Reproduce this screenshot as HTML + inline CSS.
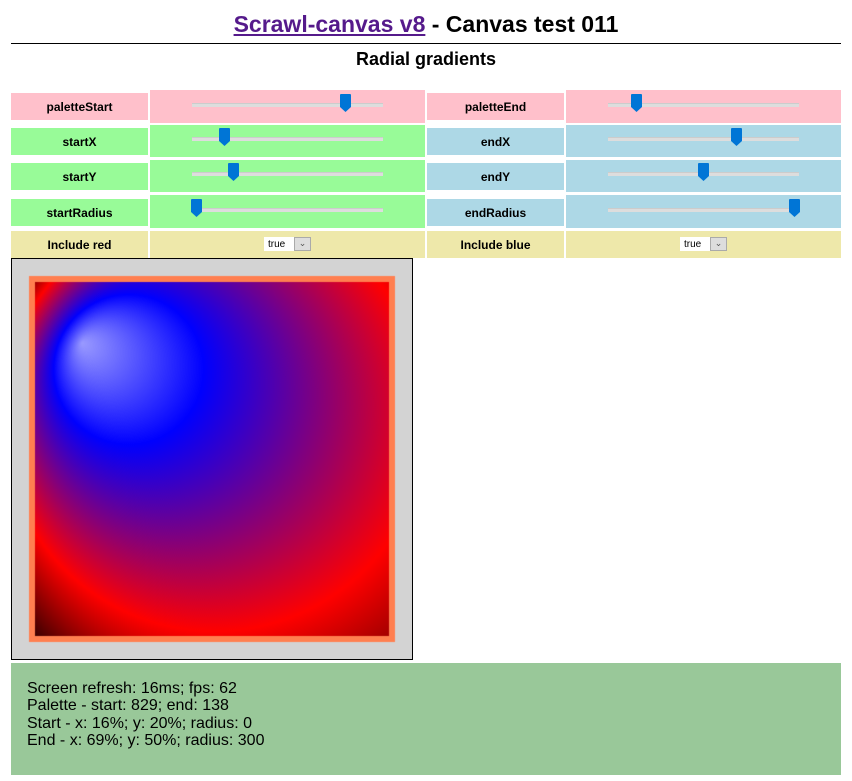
<!DOCTYPE html>
<html><head><meta charset="utf-8"><style>
body{margin:0;width:852px;height:781px;background:#fff;font-family:"Liberation Sans",sans-serif;position:relative;overflow:hidden}
.a{position:absolute}
.lab{position:absolute;font-weight:bold;font-size:12px;display:flex;align-items:center;justify-content:center;color:#000}
.ctl{position:absolute}
.track{position:absolute;height:3px;background:#ddd;border-top:1px solid #ccc}
.thumb{position:absolute;width:11px;height:18px}
.sel{position:absolute;width:47px;height:14px;font-size:10px}
</style></head><body>
<div class="a" style="left:0;width:852px;top:11px;text-align:center;font-size:23px;font-weight:bold"><span style="color:#551a8b;text-decoration:underline">Scrawl-canvas v8</span> - Canvas test 011</div>
<div class="a" style="left:11px;top:43px;width:830px;height:1px;background:#000"></div>
<div class="a" style="left:0;width:852px;top:49px;text-align:center;font-size:18px;font-weight:bold">Radial gradients</div>
<div id="controls"></div>
<div class="a" style="left:11px;top:258px;width:400px;height:400px;border:1px solid #000;background:#d3d3d3">
<canvas id="cv" width="400" height="400" style="position:absolute;left:0;top:0"></canvas></div>
<div class="a" style="left:11px;top:663px;width:830px;height:112px;background:#99c899;font-size:16px;line-height:17.3px">
<div style="position:absolute;left:16px;top:17px">Screen refresh: 16ms; fps: 62<br>Palette - start: 829; end: 138<br>Start - x: 16%; y: 20%; radius: 0<br>End - x: 69%; y: 50%; radius: 300</div></div>
<script>
const cv=document.getElementById('cv').getContext('2d');
cv.fillStyle='#ff7f50';cv.fillRect(17,17,366,366);
const g=cv.createRadialGradient(70,84,0,257,190,300);
g.addColorStop(0,'#9a9aff');g.addColorStop(0.25,'#0000ff');g.addColorStop(0.71,'#ff0000');g.addColorStop(1,'#3a0000');
cv.fillStyle=g;cv.fillRect(23,23,354,354);
const rowNames=[['paletteStart','paletteEnd'],['startX','endX'],['startY','endY'],['startRadius','endRadius']];
const thumbPos=[[0.805,0.15],[0.17,0.675],[0.215,0.5],[0.025,0.975]];
const rowColors=[['#ffc0cb','#ffc0cb'],['#98fb98','#add8e6'],['#98fb98','#add8e6'],['#98fb98','#add8e6']];
const labY=[[93,27],[128,27],[163,27],[199,27]];
const ctlY=[[90,33],[125,32],[160,32],[195,33]];
const c=document.getElementById('controls');
function mk(cls,css,txt){const e=document.createElement('div');e.className=cls;e.style.cssText=css;if(txt)e.textContent=txt;c.appendChild(e);return e;}
for(let r=0;r<4;r++){for(let s=0;s<2;s++){
 const lx=s?427:11,cx=s?566:150,tx=s?608:192;
 const l=mk('lab',`left:${lx}px;top:${labY[r][0]}px;width:137px;height:${labY[r][1]}px;background:${rowColors[r][s]}`,rowNames[r][s]);
 
 
 const k=mk('ctl',`left:${cx}px;top:${ctlY[r][0]}px;width:275px;height:${ctlY[r][1]}px;background:${rowColors[r][s]}`);
 
 
 const ty=ctlY[r][0]+ctlY[r][1]/2-4;
 const t=mk('track',`left:${tx}px;top:${ty}px;width:191px`);
 
 
 const th=mk('thumb',`left:${tx+thumbPos[r][s]*191-5.5}px;top:${ty-9}px`);
 th.innerHTML='<svg width="11" height="18"><path d="M0 1Q0 0 1 0H10Q11 0 11 1V13L5.5 18L0 13Z" fill="#0075d6"/></svg>';
 
 
}}
[['Include red',11,150,264],['Include blue',427,566,680]].forEach(([n,lx,cx,sx])=>{
 const l=mk('lab',`left:${lx}px;top:231px;width:137px;height:27px;background:#eee8aa`,n);
 
 
 const k=mk('ctl',`left:${cx}px;top:231px;width:275px;height:27px;background:#eee8aa`);
 
 
 const s=mk('sel',`left:${sx}px;top:237px`);
 s.innerHTML='<div style="position:absolute;left:0;top:0;width:30px;height:14px;background:#fff;line-height:15px;padding-left:4px;box-sizing:border-box">true</div><div style="position:absolute;left:30px;top:0;width:17px;height:14px;background:#ddd;border:1px solid #aaa;box-sizing:border-box;text-align:center;line-height:10px;font-size:9px;color:#555">&#8964;</div>';
 
 
});
</script>
</body></html>
